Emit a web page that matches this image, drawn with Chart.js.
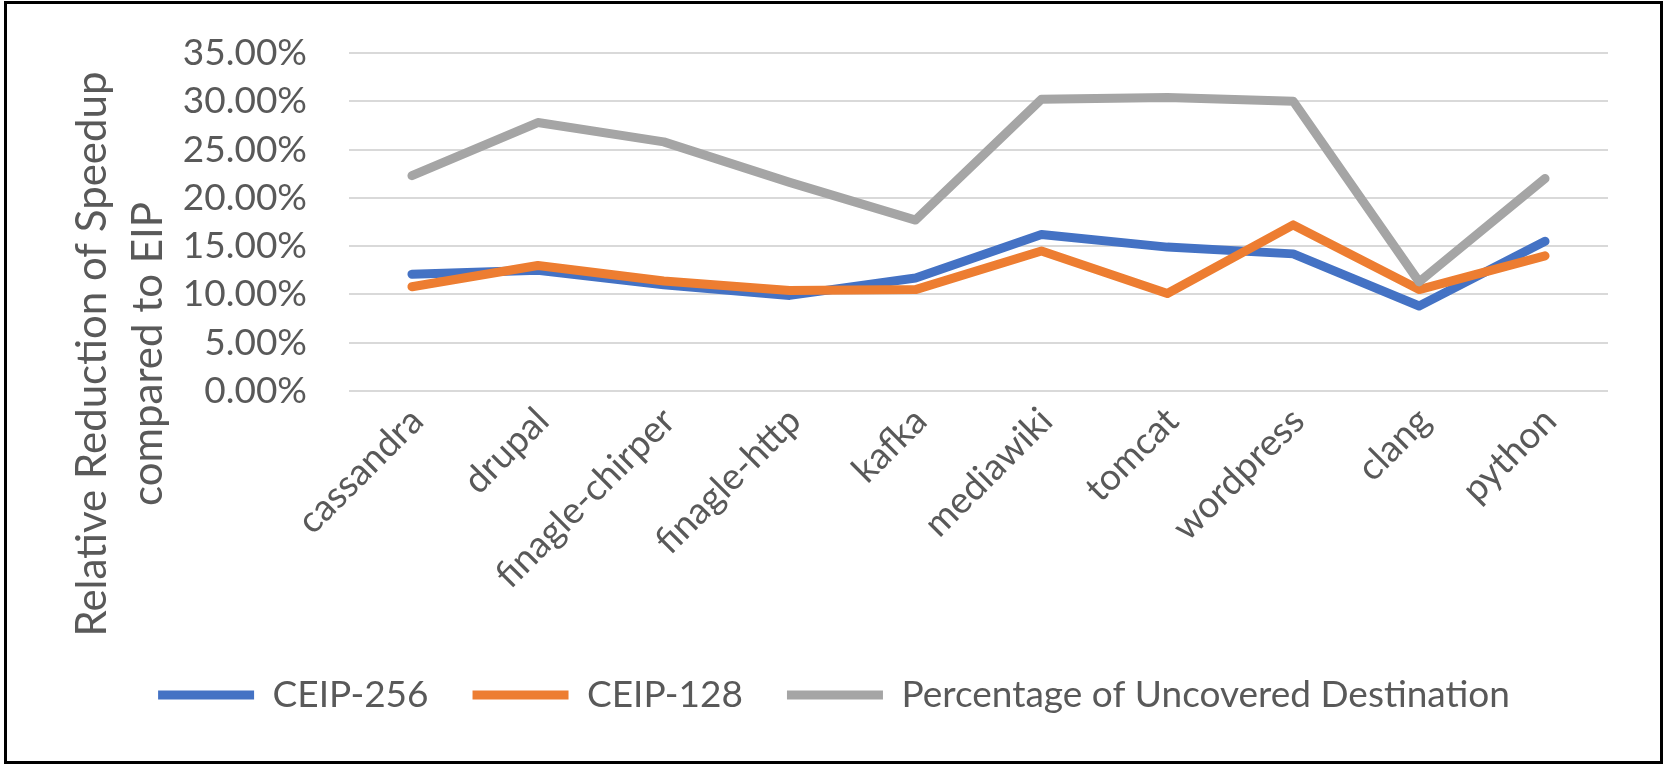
<!DOCTYPE html>
<html>
<head>
<meta charset="utf-8">
<script src="https://cdn.jsdelivr.net/npm/chart.js@4.4.1/dist/chart.umd.min.js"></script>
<style>
  html, body { margin: 0; padding: 0; background: #fff; }
  #wrap { position: relative; width: 1668px; height: 770px; }
  #frame {
    position: absolute; left: 4px; top: 1px; width: 1659px; height: 763px;
    border: 3px solid #000; box-sizing: border-box; pointer-events: none;
  }
</style>
</head>
<body>
<div id="wrap">
  <canvas id="chart" width="1668" height="770"></canvas>
  <div id="frame"></div>
</div>
<script>
// data
const categories = ['cassandra', 'drupal', 'finagle-chirper', 'finagle-http', 'kafka',
                    'mediawiki', 'tomcat', 'wordpress', 'clang', 'python'];
const ceip256 = [12.1, 12.5, 11.0, 9.9, 11.7, 16.2, 14.9, 14.2, 8.8, 15.5];
const ceip128 = [10.8, 13.0, 11.4, 10.4, 10.5, 14.5, 10.1, 17.2, 10.5, 14.0];
const uncovered = [22.3, 27.8, 25.8, 21.6, 17.7, 30.2, 30.4, 30.0, 11.3, 22.0];
const yMin = 0, yMax = 35, yStep = 5;
const yTitle = ['Relative Reduction of Speedup', 'compared to EIP'];

const FONT = 'Lato, "Open Sans", sans-serif';
const TEXT = '#595959';

// y axis title, drawn lower than the plot centre like in the original
const yTitlePlugin = {
    id: 'yTitle',
    afterDraw(chart) {
        const ctx = chart.ctx;
        ctx.save();
        ctx.fillStyle = TEXT;
        ctx.font = '37px ' + FONT;
        // the first line is 570px long in the picture
        const size = Math.round(37 * 570 / ctx.measureText(yTitle[0]).width);
        ctx.font = size + 'px ' + FONT;
        ctx.textAlign = 'center';
        ctx.textBaseline = 'middle';
        const xs = [92, 148];
        yTitle.forEach((line, i) => {
            ctx.save();
            ctx.translate(xs[i], 354);
            ctx.rotate(-Math.PI / 2);
            ctx.fillText(line, 0, 0);
            ctx.restore();
        });
        ctx.restore();
    }
};

function lineSet(label, data, color, order) {
    return {
        label: label,
        data: data,
        borderColor: color,
        backgroundColor: color,
        borderWidth: 9,
        borderCapStyle: 'round',
        borderJoinStyle: 'round',
        pointRadius: 0,
        pointHoverRadius: 0,
        tension: 0,
        order: order
    };
}

new Chart(document.getElementById('chart'), {
    type: 'line',
    data: {
        labels: categories,
        datasets: [
            lineSet('CEIP-256', ceip256, '#4472C4', 2),
            lineSet('CEIP-128', ceip128, '#ED7D31', 1),
            lineSet('Percentage of Uncovered Destination', uncovered, '#A5A5A5', 0)
        ]
    },
    options: {
        responsive: false,
        animation: false,
        devicePixelRatio: 1,
        layout: { padding: { top: 53, left: 60, right: 60, bottom: 46.5 } },
        plugins: {
            tooltip: { enabled: false },
            legend: {
                position: 'bottom',
                labels: {
                    usePointStyle: true,
                    pointStyle: 'line',
                    pointStyleWidth: 96,
                    padding: 44,
                    color: TEXT,
                    font: { family: FONT, size: 37 },
                    sort: (a, b) => a.datasetIndex - b.datasetIndex
                }
            }
        },
        scales: {
            x: {
                offset: true,
                grid: { display: false },
                border: { display: false },
                ticks: {
                    color: TEXT,
                    font: { family: FONT, size: 37 },
                    autoSkip: false,
                    minRotation: 45,
                    maxRotation: 45,
                    padding: 0,
                    labelOffset: 5
                },
                afterFit: s => { s.height = 241.5; }
            },
            y: {
                min: yMin,
                max: yMax,
                border: { display: false },
                grid: { color: '#D9D9D9', lineWidth: 2, drawTicks: false },
                ticks: {
                    stepSize: yStep,
                    autoSkip: false,
                    color: TEXT,
                    font: { family: FONT, size: 37 },
                    padding: 42,
                    callback: v => v.toFixed(2) + '%'
                },
                afterFit: s => {
                    s.width = 289;
                    s.paddingTop = 0;
                    s.paddingBottom = 0;
                }
            }
        }
    },
    plugins: [yTitlePlugin]
});
</script>
</body>
</html>
